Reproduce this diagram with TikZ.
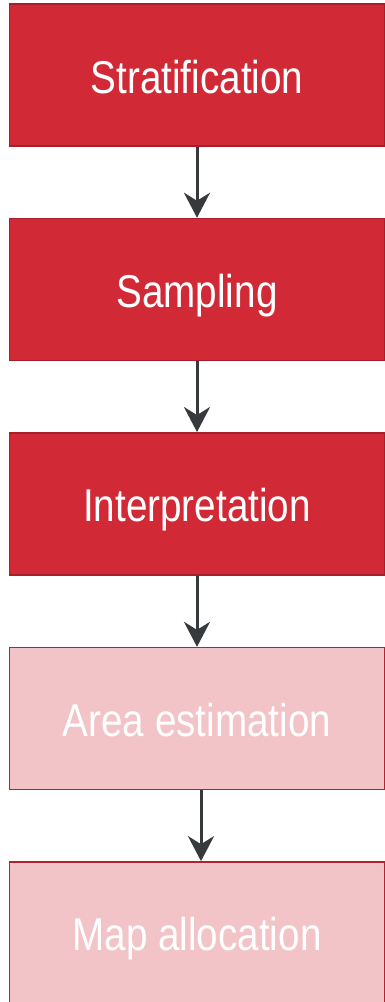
\documentclass[tikz,border=0pt]{standalone}
\usepackage{fontspec}
\setmainfont{Liberation Sans}[FakeStretch=0.84]
\usetikzlibrary{arrows.meta}
\definecolor{stepdark}{HTML}{D12A36}
\definecolor{stepdarkline}{HTML}{A51F2A}
\definecolor{steplight}{HTML}{F2C4C7}
\definecolor{steplightline}{HTML}{AE2530}
\definecolor{flowgray}{HTML}{373A3C}
\tikzset{
  stepbox/.style={rectangle, minimum width=375pt, minimum height=142pt,
    line width=1.5pt, inner sep=0pt, text=white,
    text height=36pt, text depth=0pt,
    font=\fontsize{46}{50}\selectfont},
  activebox/.style={stepbox, fill=stepdark, draw=stepdarkline},
  pendingbox/.style={stepbox, fill=steplight, draw=steplightline},
  flow/.style={draw=flowgray, line width=3pt,
    -{Stealth[length=25pt, width=26pt, inset=8pt]}}
}
\begin{document}
\begin{tikzpicture}[x=1pt, y=-1pt]
  \useasboundingbox (0,0) rectangle (385,1002);
  \node[activebox]  (strat)  at (197, 75.2)  {Stratification};
  \node[activebox]  (samp)   at (197, 289.5) {Sampling};
  \node[activebox]  (interp) at (197, 503.8) {Interpretation};
  \node[pendingbox] (area)   at (197, 718.6) {Area estimation};
  \node[pendingbox] (alloc)  at (197, 932.9) {Map allocation};
  \draw[flow] (strat.south)  -- (samp.north);
  \draw[flow] (samp.south)   -- (interp.north);
  \draw[flow] (interp.south) -- (area.north);
  \draw[flow] ([xshift=4pt]area.south) -- ([xshift=4pt]alloc.north);
\end{tikzpicture}
\end{document}
